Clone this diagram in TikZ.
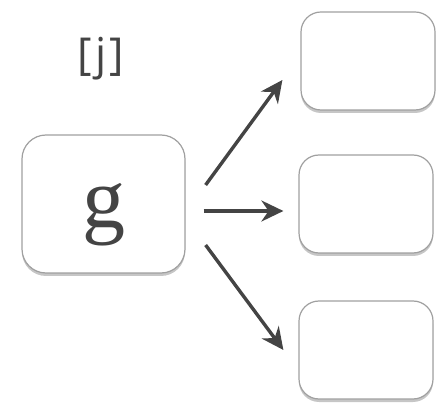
\documentclass[tikz,border=0pt]{standalone}
\usepackage{fontspec}
\newfontfamily\labelfont{Open Sans}
\newfontfamily\letterfont{Liberation Serif}
\usetikzlibrary{arrows.meta,shadows}
\definecolor{arrowgray}{HTML}{444444}
\definecolor{boxgray}{HTML}{A0A0A0}

\def\boxW{134}
\def\boxH{98}

\begin{document}
\begin{tikzpicture}[x=1pt, y=1pt,
    card/.style={draw=boxgray, line width=1.2pt, fill=white, rounded corners=20pt,
      drop shadow={shadow xshift=0pt, shadow yshift=-3pt, opacity=0.45, fill=gray}},
    arr/.style={-{Stealth[length=22pt, width=21pt]}, line width=3.4pt, draw=arrowgray}]
      \useasboundingbox (0,0) rectangle (444,404);
      \node[card, minimum width=163pt, minimum height=138pt, rounded corners=24pt,
            text height=66pt, text depth=18pt,
            font=\letterfont\fontsize{86}{86}\selectfont, text=arrowgray] (g) at (103.5,200) {g};
      \node[font=\labelfont\fontsize{44}{44}\selectfont, text=arrowgray] (label) at (101,345)
            {[\hspace{3pt}j\hspace{3pt}]};
      \node[card, minimum width=\boxW pt, minimum height=\boxH pt] (top) at (368,343) {};
      \node[card, minimum width=\boxW pt, minimum height=\boxH pt] (mid) at (366,200) {};
      \node[card, minimum width=\boxW pt, minimum height=\boxH pt] (bot) at (366,54) {};
      \draw[arr] ([shift={(20,19)}]g.east) -- ([shift={(-18,-19)}]top.west);
      \draw[arr] ([shift={(18,-7)}]g.east) -- ([shift={(-15,-7)}]mid.west);
      \draw[arr] ([shift={(20,-41)}]g.east) -- ([shift={(-15,0)}]bot.west);
    \end{tikzpicture}
\end{document}
